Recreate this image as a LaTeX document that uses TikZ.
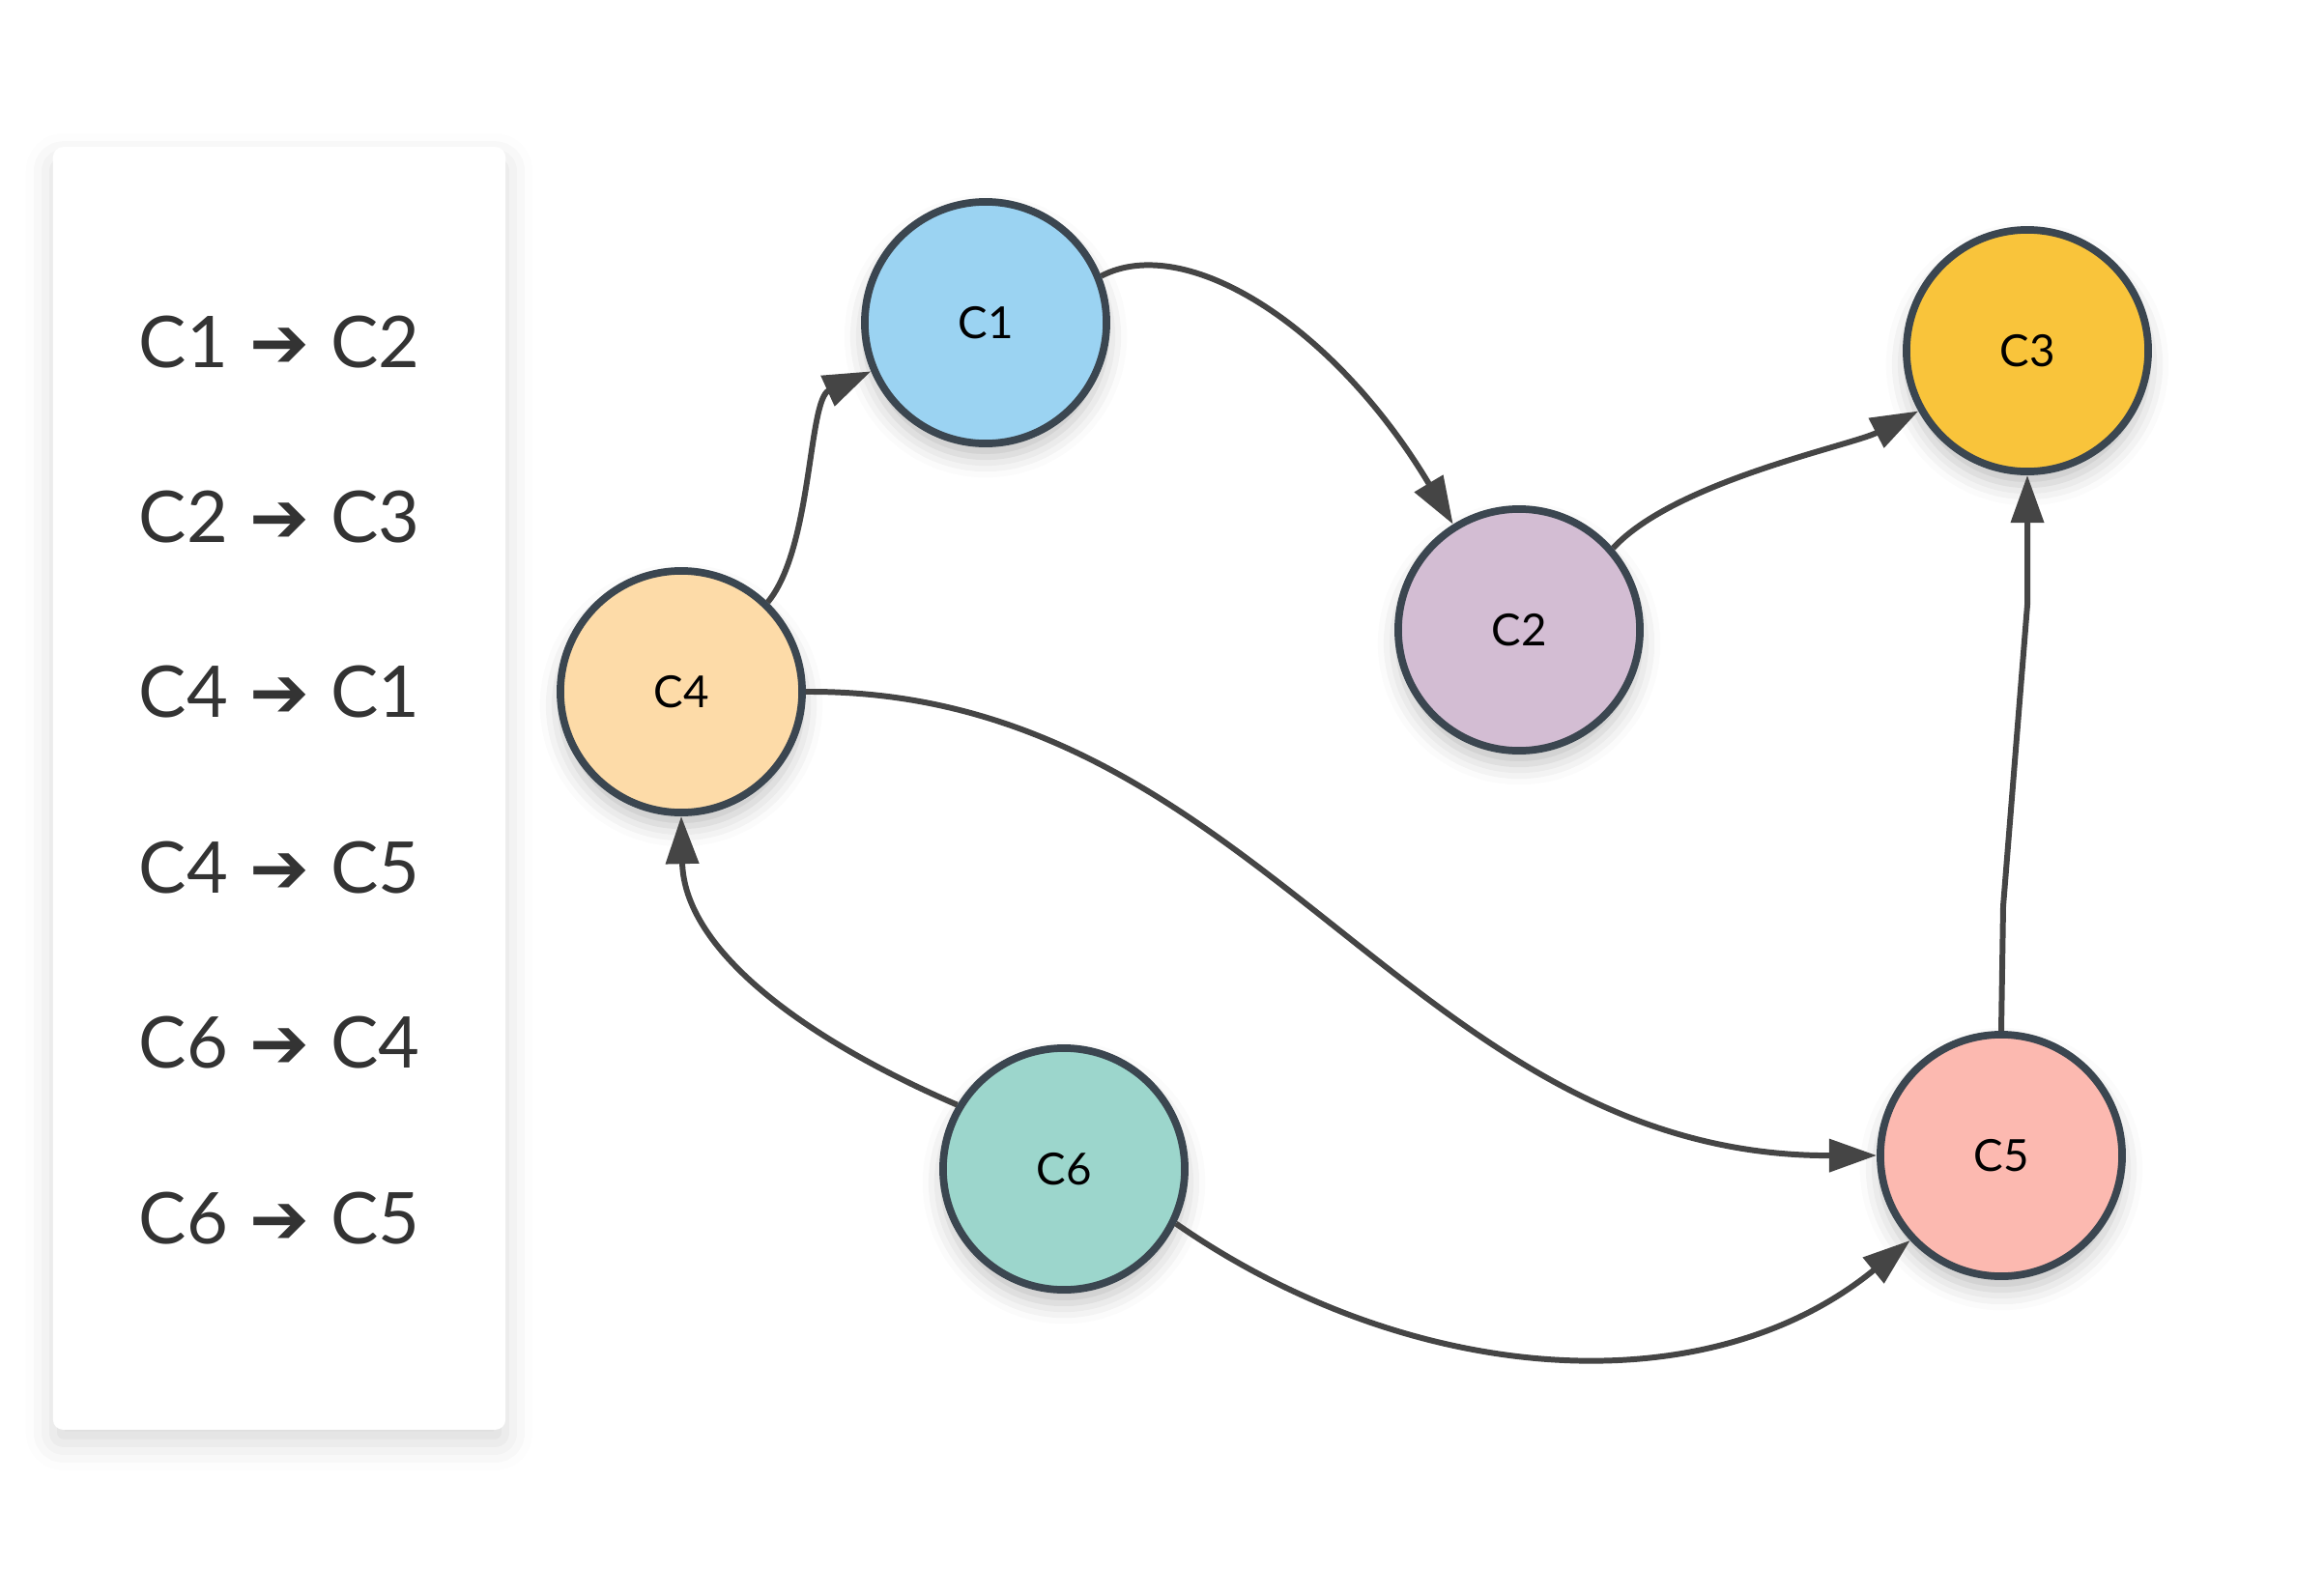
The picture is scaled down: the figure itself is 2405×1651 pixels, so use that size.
\documentclass[tikz,border=0pt]{standalone}
\usepackage{fontspec}
\setmainfont{Lato}
\newfontfamily\symfont{DejaVu Sans}
\usetikzlibrary{arrows.meta,shadows.blur}
\definecolor{nodeline}{HTML}{3B4650}
\definecolor{edgecol}{HTML}{454545}
\definecolor{rowcol}{HTML}{333333}
\definecolor{fillc1}{HTML}{9BD3F2}
\definecolor{fillc2}{HTML}{D3BDD3}
\definecolor{fillc3}{HTML}{F9C43B}
\definecolor{fillc4}{HTML}{FDDBA8}
\definecolor{fillc5}{HTML}{FCB9B0}
\definecolor{fillc6}{HTML}{9CD6CC}
\begin{document}
\begin{tikzpicture}[x=0.01cm, y=-0.01cm,
	cnode/.style={circle, draw=nodeline, line width=2.2pt, minimum size=2.5cm, inner sep=0pt,
		font=\fontsize{13}{15}\selectfont,
		blur shadow={shadow xshift=0pt, shadow yshift=-4pt, shadow blur radius=6pt, shadow opacity=25}},
	panel/.style={rectangle, rounded corners=3pt, fill=white, minimum width=4.68cm, minimum height=13.27cm,
		blur shadow={shadow xshift=0pt, shadow yshift=-4pt, shadow blur radius=8pt, shadow opacity=15}},
	rowtext/.style={anchor=base west, inner sep=0pt, text=rowcol, font=\fontsize{21}{25}\selectfont},
	flow/.style={-{Triangle[length=14pt, width=9.5pt]}, line width=1.7pt, draw=edgecol}]
	\useasboundingbox (0,0) rectangle (2405,1651);
	%Legend:
	\node[panel] (legend) at (289, 816) {};
	\foreach \src/\dst [count=\i] in {C1/C2, C2/C3, C4/C1, C4/C5, C6/C4, C6/C5}
		\node[rowtext] (row\i) at (143, {380+181.4*(\i-1)}) {\src\hspace{0.3em}{\symfont ➔}\hspace{0.3em}\dst};
	%Nodes:
	\node[cnode, fill=fillc1] (c1) at (1020, 334) {C1};
	\node[cnode, fill=fillc2] (c2) at (1572, 652) {C2};
	\node[cnode, fill=fillc3] (c3) at (2098, 363) {C3};
	\node[cnode, fill=fillc4] (c4) at (705, 716) {C4};
	\node[cnode, fill=fillc5] (c5) at (2071, 1196) {C5};
	\node[cnode, fill=fillc6] (c6) at (1101, 1210) {C6};
	%Edges:
	\draw[flow] (c1.22) .. controls (1227, 240) and (1381, 337) .. (c2.122);
	\draw[flow] (c4.46) .. controls (841, 567) and (836, 414) .. (c1.203);
	\draw[flow] (c2.41) .. controls (1733, 498) and (1917, 461) .. (c3.209);
	\draw[flow] (c4.east) .. controls (1303, 713) and (1458, 1197) .. (c5.west);
	\draw[flow] (c6.149) .. controls (829, 1074) and (708, 982) .. (c4.south);
	\draw[flow] (c6.334) .. controls (1458, 1434) and (1764, 1458) .. (c5.223);
	\draw[flow] (c5.north) -- (2073, 938) -- (2098, 626) -- (c3.south);
\end{tikzpicture}
\end{document}
